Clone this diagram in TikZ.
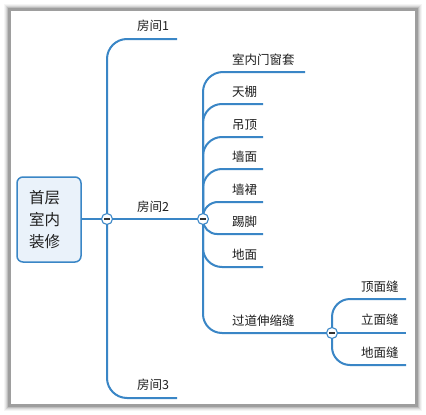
\documentclass[tikz,border=0pt]{standalone}
\usepackage{fontspec}
\setmainfont{Noto Sans CJK SC}
\definecolor{mmblue}{HTML}{3A86C6}
\definecolor{rootfill}{HTML}{EAF2FA}
\begin{document}
\begin{tikzpicture}[x=1pt,y=-1pt,
  branch/.style={draw=mmblue,line width=2pt},
  lbl/.style={anchor=west,inner sep=0pt,font=\fontsize{12.5}{14}\selectfont,text=black!88},
  toggle/.style={circle,draw=mmblue,fill=white,line width=1.1pt,minimum size=11pt,inner sep=0pt,
    path picture={\draw[line width=1.3pt,black!80] ([xshift=-2.6pt]path picture bounding box.center) -- ([xshift=2.6pt]path picture bounding box.center);}},
  rootbox/.style={draw=mmblue,fill=rootfill,rounded corners=6pt,line width=1.5pt,minimum width=64pt,minimum height=85pt,
    align=left,text width=40pt,inner sep=0pt,font=\fontsize{15.5}{22}\selectfont,text=black!88},
]
\useasboundingbox (0,0) rectangle (426,415);
% frame with shadow
\fill[black!4] (4,4) rectangle (422,411);
\fill[black!9] (5,5) rectangle (421,410);
\fill[black!16] (6,6) rectangle (420,409);
\fill[black!26] (7,7) rectangle (419,408);
\fill[black!38] (8,8) rectangle (418,407);
\fill[white] (11,11) rectangle (415,404);

% coordinates of branch ends
\coordinate (e1) at (177,39);
\coordinate (e3) at (177,398);
\coordinate (f1) at (305,72);
\coordinate (f2) at (263,104);
\coordinate (f3) at (263,137);
\coordinate (f4) at (263,169);
\coordinate (f5) at (263,202);
\coordinate (f6) at (263,234);
\coordinate (f7) at (263,267);
\coordinate (g1) at (406,299);
\coordinate (g2) at (406,333);
\coordinate (g3) at (406,365);

% toggle positions (named coordinates, toggles drawn last)
\coordinate (p1) at (107,219);
\coordinate (p2) at (203,219);
\coordinate (p3) at (332,333);

% connectors
\draw[branch] (81,219) coordinate (rootout) -- (p1);
\draw[branch] (p1) -- (p2);
\draw[branch,rounded corners=20pt] (e1) -| (p1);
\draw[branch,rounded corners=20pt] (e3) -| (p1);
\draw[branch,rounded corners=20pt] (f1) -| (p2);
\draw[branch,rounded corners=19pt] (f2) -| (p2);
\draw[branch,rounded corners=19pt] (f3) -| (p2);
\draw[branch,rounded corners=19pt] (f4) -| (p2);
\draw[branch,rounded corners=15pt] (f5) -| (p2);
\draw[branch,rounded corners=14pt] (f6) -| (p2);
\draw[branch,rounded corners=19pt] (f7) -| (p2);
\draw[branch,rounded corners=19pt] (p3) -| (p2);
\draw[branch,rounded corners=18pt] (g1) -| (p3);
\draw[branch] (p3) -- (g2);
\draw[branch,rounded corners=18pt] (g3) -| (p3);

% nodes on top
\node[rootbox] (root) at (49,219.5) {首层\\室内\\装修};
\node[toggle] (c1) at (p1) {};
\node[toggle] (c2) at (p2) {};
\node[toggle] (c3) at (p3) {};

% labels
\node[lbl] (l1) at (137,26) {房间1};
\node[lbl] (l2) at (137,207) {房间2};
\node[lbl] (l3) at (137,385) {房间3};
\node[lbl] (m1) at (232,60) {室内门窗套};
\node[lbl] (m2) at (232,92) {天棚};
\node[lbl] (m3) at (232,125) {吊顶};
\node[lbl] (m4) at (232,157) {墙面};
\node[lbl] (m5) at (232,190) {墙裙};
\node[lbl] (m6) at (232,222) {踢脚};
\node[lbl] (m7) at (232,255) {地面};
\node[lbl] (m8) at (232,321) {过道伸缩缝};
\node[lbl] (n1) at (361,287) {顶面缝};
\node[lbl] (n2) at (361,320) {立面缝};
\node[lbl] (n3) at (361,353) {地面缝};
\end{tikzpicture}
\end{document}
